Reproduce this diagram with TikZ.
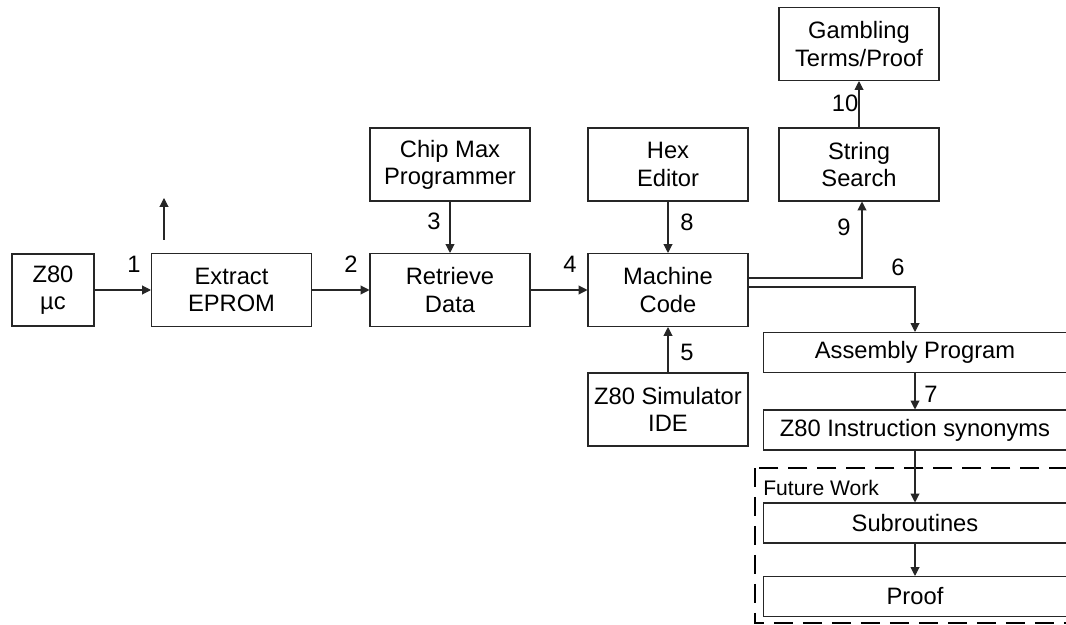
\documentclass[tikz,border=0pt]{standalone}
\usepackage{fontspec}
\setmainfont{Liberation Sans}
\usetikzlibrary{positioning,arrows.meta}

\begin{document}
\begin{tikzpicture}[x=0.02cm,y=-0.02cm,
  box/.style={draw=black!85,line width=0.6pt,minimum width=3.2cm,minimum height=1.46cm,
    align=center,inner sep=0pt,font=\fontsize{13.5}{15.5}\selectfont},
  wide/.style={box,minimum width=6.08cm,minimum height=0.8cm},
  arr/.style={-{Triangle[length=5pt,width=5pt]},line width=0.6pt,draw=black!85},
  num/.style={inner sep=0pt,font=\fontsize{13.5}{15.5}\selectfont}]
\clip (0,0) rectangle (1066,625);

\node[box,minimum width=1.64cm,minimum height=1.44cm] (z80) at (53,290) {Z80\\µc};
\node[box] (extract) at (231.5,290) {Extract\\EPROM};
\node[box] (retrieve) at (450,290) {Retrieve\\Data};
\node[box] (machine) at (668,290) {Machine\\Code};
\node[box] (chipmax) at (450,164.5) {Chip Max\\Programmer};
\node[box] (hex) at (668,164.5) {Hex\\Editor};
\node[box] (search) at (859,164.5) {String\\Search};
\node[box] (gambling) at (859,44) {Gambling\\Terms/Proof};
\node[box] (simulator) at (668,409.5) {Z80 Simulator\\IDE};

\node[wide] (assembly) at (915,352.5) {Assembly Program};
\node[wide] (synonyms) at (915,430) {Z80 Instruction synonyms};
\node[wide] (subroutines) at (915,523) {Subroutines};
\node[wide] (proof) at (915,596.5) {Proof};

\draw[line width=1.1pt,dash pattern=on 11pt off 5.5pt] (755,468) rectangle (1090,623);
\node[anchor=base west,inner sep=0pt,font=\fontsize{12}{14}\selectfont] (future) at (763,495) {Future Work};

\coordinate (upstart) at (164,240);
\coordinate (upend) at (164,198);
\draw[arr] (upstart) -- (upend);

\draw[arr] (z80) -- (extract);
\draw[arr] (extract) -- (retrieve);
\draw[arr] (retrieve) -- (machine);
\draw[arr] (chipmax) -- (retrieve);
\draw[arr] (hex) -- (machine);
\draw[arr] (simulator) -- (machine);
\draw[arr] (search) -- (gambling);
\draw[arr] ([yshift=0.24cm]machine.east) -| ([xshift=0.06cm]search.south);
\draw[arr] ([yshift=0.06cm]machine.east) -| (assembly.north);
\draw[arr] (assembly) -- (synonyms);
\draw[arr] (synonyms) -- (subroutines);
\draw[arr] (subroutines) -- (proof);

\node[num] (n1) at (134,264) {1};
\node[num] (n2) at (351,264) {2};
\node[num] (n3) at (434,221) {3};
\node[num] (n4) at (570,264) {4};
\node[num] (n5) at (687,352) {5};
\node[num] (n6) at (898,267) {6};
\node[num] (n7) at (931,394) {7};
\node[num] (n8) at (687,222) {8};
\node[num] (n9) at (844,227) {9};
\node[num] (n10) at (845,103) {10};
\end{tikzpicture}
\end{document}
